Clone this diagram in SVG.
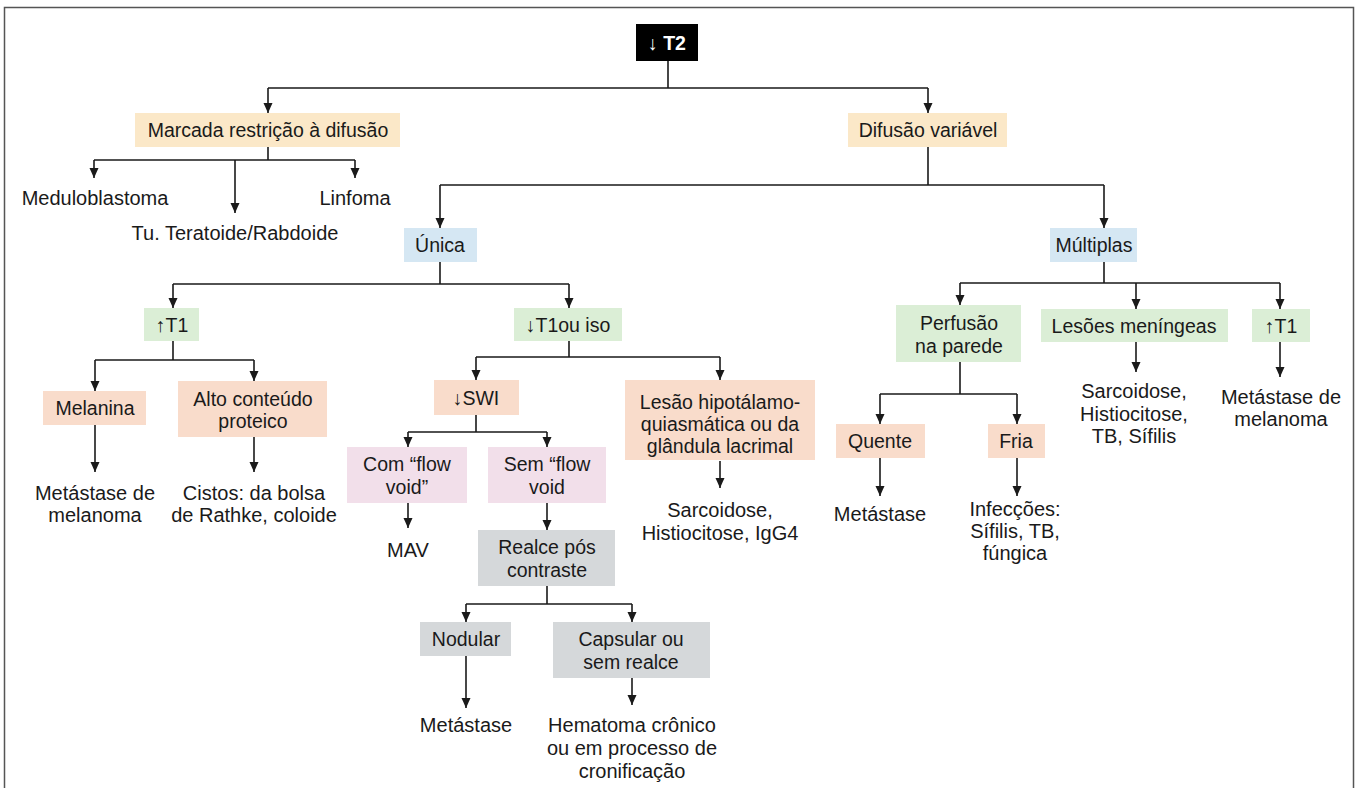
<svg xmlns="http://www.w3.org/2000/svg" width="1358" height="788" viewBox="0 0 1358 788">
<style>
text{font-family:"Liberation Sans",Arial,sans-serif;font-size:19.5px;fill:#1a1a1a;text-anchor:middle}
.o text{font-size:20px}
.yel{fill:#fbe8c8}.blu{fill:#d5e7f3}.grn{fill:#dbeed6}.sal{fill:#f9dccb}.pnk{fill:#f2dfea}.gry{fill:#d5d8da}
#connectors path{fill:none;stroke:#1a1a1a;stroke-width:1.6}
</style>
<defs>
<marker id="ah" viewBox="0 0 10 10" refX="10" refY="5" markerWidth="10" markerHeight="10" markerUnits="userSpaceOnUse" orient="auto"><path d="M0,0.5 L10,5 L0,9.5 z" fill="#1a1a1a"/></marker>
</defs>
<rect x="0" y="0" width="1358" height="788" fill="#fff"/>
<rect x="4.5" y="7.5" width="1349" height="800" fill="none" stroke="#555" stroke-width="1.5"/>

<g id="connectors">
<path d="M668,61 V88 M268,88 H928"/>
<path d="M268,88 V113" marker-end="url(#ah)"/>
<path d="M928,88 V113" marker-end="url(#ah)"/>
<path d="M268,147 V160 M94,160 H355"/>
<path d="M94,160 V178" marker-end="url(#ah)"/>
<path d="M235,160 V213" marker-end="url(#ah)"/>
<path d="M355,160 V178" marker-end="url(#ah)"/>
<path d="M928,147 V185 M440,185 H1104"/>
<path d="M440,185 V228" marker-end="url(#ah)"/>
<path d="M1104,185 V228" marker-end="url(#ah)"/>
<path d="M440,262 V284 M173,284 H569"/>
<path d="M173,284 V308" marker-end="url(#ah)"/>
<path d="M569,284 V308" marker-end="url(#ah)"/>
<path d="M173,341 V360 M95,360 H254"/>
<path d="M95,360 V391" marker-end="url(#ah)"/>
<path d="M254,360 V381" marker-end="url(#ah)"/>
<path d="M95,425 V472" marker-end="url(#ah)"/>
<path d="M254,437 V472" marker-end="url(#ah)"/>
<path d="M569,341 V357 M476,357 H720"/>
<path d="M476,357 V380" marker-end="url(#ah)"/>
<path d="M720,357 V380" marker-end="url(#ah)"/>
<path d="M720,461 V488" marker-end="url(#ah)"/>
<path d="M476,415 V432 M408,432 H547"/>
<path d="M408,432 V447" marker-end="url(#ah)"/>
<path d="M547,432 V447" marker-end="url(#ah)"/>
<path d="M408,503 V528" marker-end="url(#ah)"/>
<path d="M547,503 V530" marker-end="url(#ah)"/>
<path d="M547,586 V604 M466,604 H632"/>
<path d="M466,604 V622" marker-end="url(#ah)"/>
<path d="M632,604 V622" marker-end="url(#ah)"/>
<path d="M466,656 V708" marker-end="url(#ah)"/>
<path d="M632,678 V705" marker-end="url(#ah)"/>
<path d="M1104,262 V283 M960,283 H1280"/>
<path d="M960,283 V305" marker-end="url(#ah)"/>
<path d="M1136,283 V309" marker-end="url(#ah)"/>
<path d="M1280,283 V309" marker-end="url(#ah)"/>
<path d="M1136,342 V372" marker-end="url(#ah)"/>
<path d="M1280,342 V377" marker-end="url(#ah)"/>
<path d="M960,362 V394 M880,394 H1017"/>
<path d="M880,394 V424" marker-end="url(#ah)"/>
<path d="M1017,394 V424" marker-end="url(#ah)"/>
<path d="M880,458 V496" marker-end="url(#ah)"/>
<path d="M1017,458 V496" marker-end="url(#ah)"/>
</g>

<g id="t2"><rect x="636" y="24" width="62" height="37" fill="#000"/><text x="667" y="50" style="fill:#fff;font-weight:bold">↓ T2</text></g>
<g id="marcada"><rect class="yel" x="135" y="113" width="265" height="34"/><text x="268" y="137">Marcada restrição à difusão</text></g>
<g id="difusao"><rect class="yel" x="848" y="113" width="159" height="34"/><text x="928" y="137">Difusão variável</text></g>
<g id="medulo" class="o"><text x="95" y="205">Meduloblastoma</text></g>
<g id="teratoide" class="o"><text x="235" y="240">Tu. Teratoide/Rabdoide</text></g>
<g id="linfoma" class="o"><text x="355" y="205">Linfoma</text></g>
<g id="unica"><rect class="blu" x="404" y="228" width="73" height="34"/><text x="440" y="252">Única</text></g>
<g id="multiplas"><rect class="blu" x="1050" y="228" width="87" height="34"/><text x="1094" y="252">Múltiplas</text></g>
<g id="t1up"><rect class="grn" x="144" y="308" width="55" height="33"/><text x="172" y="332">↑T1</text></g>
<g id="t1iso"><rect class="grn" x="514" y="308" width="108" height="33"/><text x="568" y="332">↓T1ou iso</text></g>
<g id="melanina"><rect class="sal" x="43" y="391" width="103" height="34"/><text x="95" y="415">Melanina</text></g>
<g id="alto"><rect class="sal" x="178" y="381" width="149" height="56"/><text x="253" y="406">Alto conteúdo</text><text x="253" y="428">proteico</text></g>
<g id="metmel1" class="o"><text x="95" y="500">Metástase de</text><text x="95" y="522">melanoma</text></g>
<g id="cistos" class="o"><text x="254" y="500">Cistos: da bolsa</text><text x="254" y="522">de Rathke, coloide</text></g>
<g id="swi"><rect class="sal" x="434" y="380" width="85" height="35"/><text x="476" y="405">↓SWI</text></g>
<g id="lesao"><rect class="sal" x="625" y="380" width="190" height="80"/><text x="720" y="409">Lesão hipotálamo-</text><text x="720" y="431">quiasmática ou da</text><text x="720" y="453">glândula lacrimal</text></g>
<g id="sarc1" class="o"><text x="720" y="517">Sarcoidose,</text><text x="720" y="540">Histiocitose, IgG4</text></g>
<g id="com"><rect class="pnk" x="347" y="447" width="120" height="56"/><text x="407" y="471">Com “flow</text><text x="407" y="494">void”</text></g>
<g id="sem"><rect class="pnk" x="488" y="447" width="118" height="56"/><text x="547" y="471">Sem “flow</text><text x="547" y="494">void</text></g>
<g id="mav" class="o"><text x="408" y="557">MAV</text></g>
<g id="realce"><rect class="gry" x="478" y="530" width="137" height="56"/><text x="547" y="554">Realce pós</text><text x="547" y="577">contraste</text></g>
<g id="nodular"><rect class="gry" x="420" y="622" width="91" height="34"/><text x="466" y="646">Nodular</text></g>
<g id="capsular"><rect class="gry" x="553" y="622" width="157" height="56"/><text x="631" y="646">Capsular ou</text><text x="631" y="669">sem realce</text></g>
<g id="met1" class="o"><text x="466" y="732">Metástase</text></g>
<g id="hematoma" class="o"><text x="632" y="732">Hematoma crônico</text><text x="632" y="755">ou em processo de</text><text x="632" y="778">cronificação</text></g>
<g id="perfusao"><rect class="grn" x="896" y="305" width="125" height="57"/><text x="959" y="330">Perfusão</text><text x="959" y="353">na parede</text></g>
<g id="meningeas"><rect class="grn" x="1041" y="309" width="187" height="33"/><text x="1134" y="333">Lesões meníngeas</text></g>
<g id="t1up2"><rect class="grn" x="1252" y="309" width="58" height="33"/><text x="1281" y="333">↑T1</text></g>
<g id="sarc2" class="o"><text x="1134" y="398">Sarcoidose,</text><text x="1134" y="421">Histiocitose,</text><text x="1134" y="443">TB, Sífilis</text></g>
<g id="metmel2" class="o"><text x="1281" y="404">Metástase de</text><text x="1281" y="426">melanoma</text></g>
<g id="quente"><rect class="sal" x="836" y="424" width="89" height="34"/><text x="880" y="448">Quente</text></g>
<g id="fria"><rect class="sal" x="988" y="424" width="57" height="34"/><text x="1016" y="448">Fria</text></g>
<g id="met2" class="o"><text x="880" y="521">Metástase</text></g>
<g id="infec" class="o"><text x="1015" y="516">Infecções:</text><text x="1015" y="538">Sífilis, TB,</text><text x="1015" y="560">fúngica</text></g>
</svg>
